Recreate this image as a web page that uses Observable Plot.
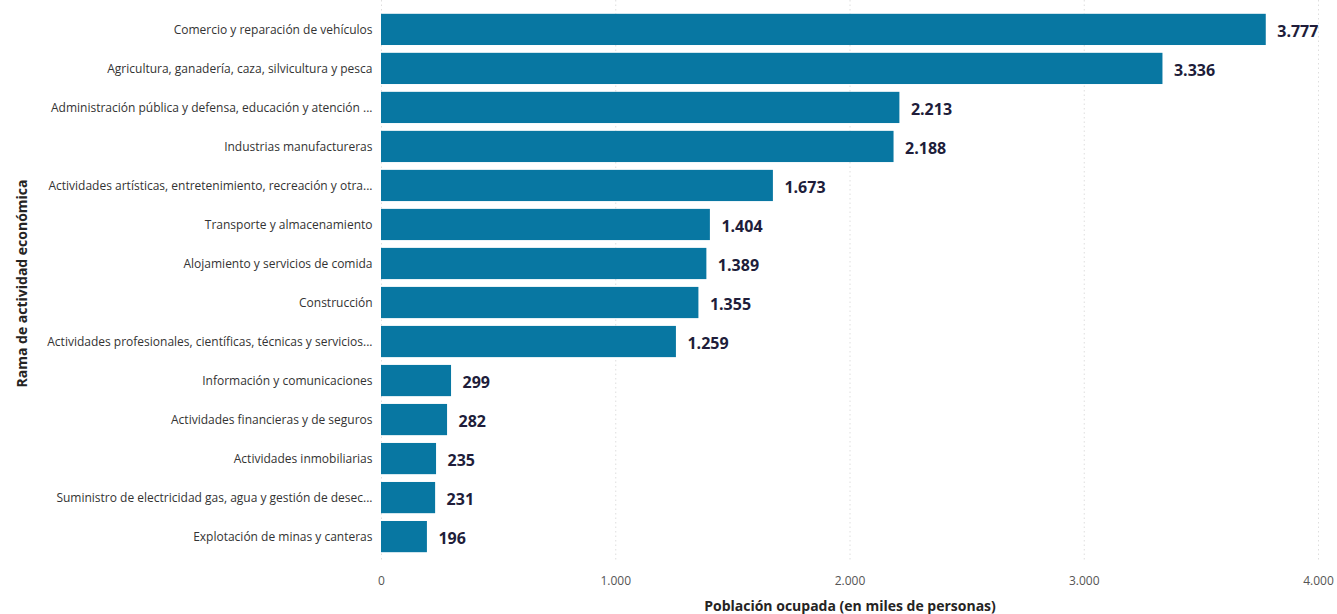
<!DOCTYPE html>
<html>
<head>
<meta charset="utf-8">
<script src="https://cdn.jsdelivr.net/npm/d3@7"></script>
<script src="https://cdn.jsdelivr.net/npm/@observablehq/plot@0.6"></script>
<style>
  html, body { margin: 0; padding: 0; background: #fff; }
  #chart { width: 1337px; height: 614px; }
</style>
</head>
<body>
<div id="chart"></div>
<script>
const categories = [
  "Comercio y reparación de vehículos",
  "Agricultura, ganadería, caza, silvicultura y pesca",
  "Administración pública y defensa, educación y atención ...",
  "Industrias manufactureras",
  "Actividades artísticas, entretenimiento, recreación y otra...",
  "Transporte y almacenamiento",
  "Alojamiento y servicios de comida",
  "Construcción",
  "Actividades profesionales, científicas, técnicas y servicios...",
  "Información y comunicaciones",
  "Actividades financieras y de seguros",
  "Actividades inmobiliarias",
  "Suministro de electricidad gas, agua y gestión de desec...",
  "Explotación de minas y canteras"
];
const values = [3777, 3336, 2213, 2188, 1673, 1404, 1389, 1355, 1259, 299, 282, 235, 231, 196];
const xTicks = [0, 1000, 2000, 3000, 4000];
const xTitle = "Población ocupada (en miles de personas)";
const yTitle = "Rama de actividad económica";

const data = categories.map((c, i) => ({category: c, value: values[i]}));
const fmt = d => d3.format(",")(d).replace(/,/g, ".");

const chart = Plot.plot({
  width: 1337,
  height: 614,
  marginLeft: 381,
  marginRight: 19,
  marginTop: 6,
  marginBottom: 54,
  style: {fontFamily: "'Open Sans', 'Noto Sans', sans-serif", background: "#fff"},
  x: {domain: [0, 4000], ticks: xTicks, tickFormat: fmt, label: null},
  y: {domain: categories, paddingInner: 0.2, paddingOuter: 0.2, round: false, label: null},
  marks: [
    Plot.ruleX(xTicks, {stroke: "#dedede", strokeWidth: 1, strokeDasharray: "1.5,3", insetTop: -6}),
    Plot.barX(data, {x: "value", y: "category", fill: "#0877a2"}),
    Plot.text(data, {x: "value", y: "category", text: d => fmt(d.value), dx: 11, dy: 1.5, textAnchor: "start",
      fontSize: 16, fontWeight: "bold", fill: "#201d3a"}),
    Plot.axisY({tickSize: 0, tickPadding: 9, fontSize: 12, color: "#333", label: null}),
    Plot.axisX(xTicks, {tickSize: 0, tickPadding: 16, fontSize: 12, color: "#555", tickFormat: fmt, label: null}),
    Plot.text([xTitle], {frameAnchor: "bottom", dy: 50, fontSize: 14, fontWeight: "bold", fill: "#252423"}),
    Plot.text([yTitle], {frameAnchor: "left", textAnchor: "middle", dx: -359, rotate: -90, fontSize: 14, fontWeight: "bold", fill: "#252423"})
  ]
});
document.getElementById("chart").appendChild(chart);
</script>
</body>
</html>
